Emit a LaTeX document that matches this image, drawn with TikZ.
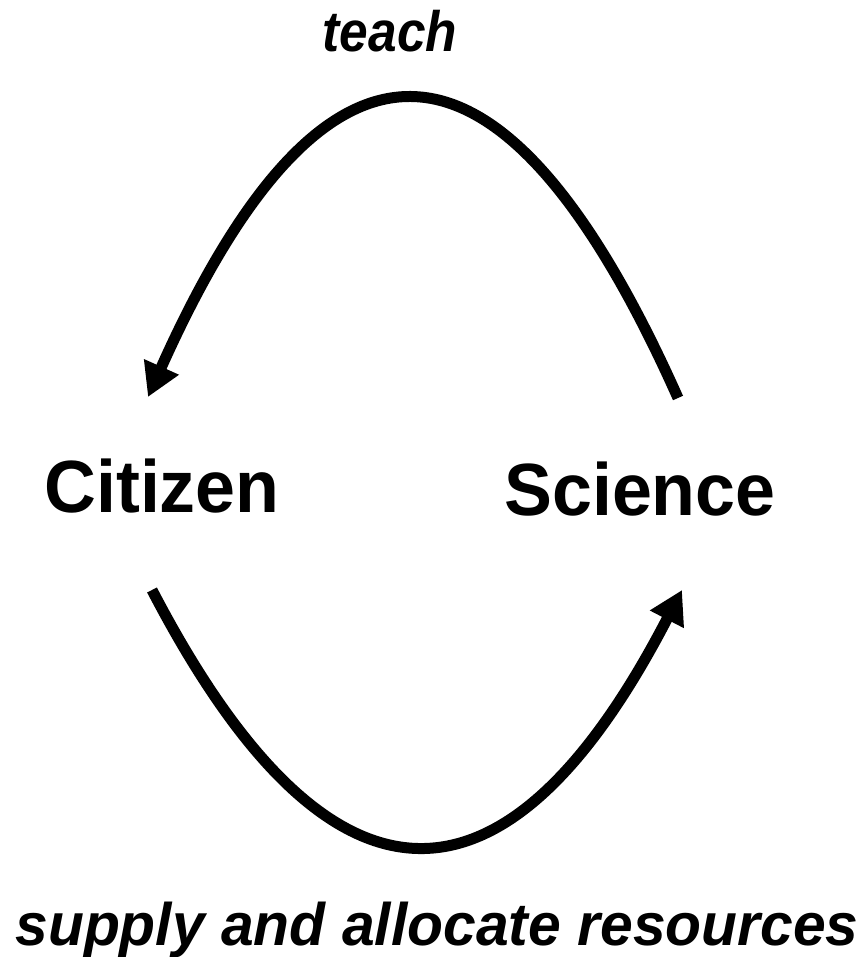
\documentclass[tikz,border=0pt]{standalone}
\usepackage{fontspec}
\setmainfont{Liberation Sans}
\usetikzlibrary{arrows.meta}
\tikzset{
  lbl/.style={inner sep=0pt, anchor=base, font=\fontsize{74}{80}\selectfont\bfseries, xscale=0.97},
  ital/.style={inner sep=0pt, anchor=base, font=\fontsize{60}{66}\selectfont\bfseries\itshape, xscale=0.98},
  flow/.style={line width=11pt, line cap=butt, -{Triangle[length=33pt,width=36pt]}}
}
\begin{document}
\begin{tikzpicture}[x=1pt,y=-1pt]
\useasboundingbox (0,0) rectangle (861,957);
\node[lbl] (citizen) at (162,512) {Citizen};
\node[lbl] (science) at (640,515) {Science};
\node[ital, font=\fontsize{57}{62}\selectfont\bfseries\itshape, xscale=0.92] (teach) at (390,52) {teach};
\node[ital] (supply) at (437,945) {supply and allocate resources};
\coordinate (sciTop) at (678,398);
\coordinate (citTop) at (148,397);
\coordinate (citBot) at (152,590);
\coordinate (sciBot) at (682,590);
\draw[flow] (sciTop) .. controls (501,1) and (325,1) .. (citTop);
\draw[flow] (citBot) .. controls (329,930) and (506,930) .. (sciBot);
\end{tikzpicture}
\end{document}
